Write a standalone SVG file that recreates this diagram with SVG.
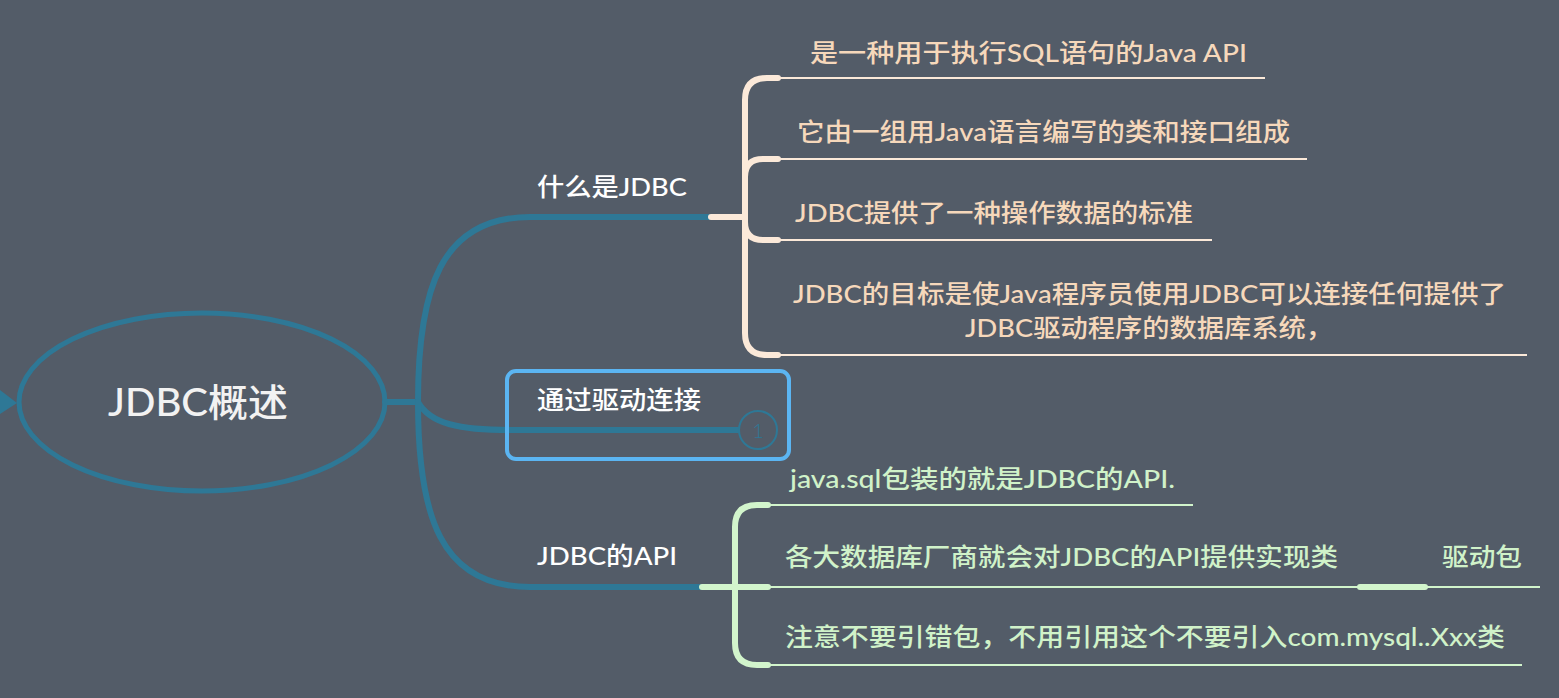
<svg xmlns="http://www.w3.org/2000/svg" width="1559" height="698" viewBox="0 0 1559 698">
<defs>
<style>
.bg{fill:#535c68}
.teal{fill:none;stroke:#2e7896;stroke-width:6;stroke-linecap:round}
.cream{fill:none;stroke:#fbe9d9;stroke-width:6;stroke-linecap:round}
.creamthin{fill:none;stroke:#fbe9d9;stroke-width:2}
.green{fill:none;stroke:#d2f5cc;stroke-width:6;stroke-linecap:round}
.greenthin{fill:none;stroke:#d2f5cc;stroke-width:2}
text{font-family:Lato,"Noto Sans CJK SC",sans-serif;font-weight:500}
.main{fill:#ffffff;font-size:25px}
.peach{fill:#f6d8bb;font-size:25px}
.mint{fill:#d0f2c9;font-size:25px}
</style>
</defs>
<rect class="bg" x="0" y="0" width="1559" height="698"/>

<g id="connectors">
<path class="teal" d="M385,402 L418,402"/>
<path class="teal" d="M418,402 C418,290 440,217 530,217 L711,217"/>
<path class="teal" d="M418,402 C430,424 460,430 510,430 L739,430"/>
<path class="teal" d="M418,402 C418,515 440,587 530,587 L702,587"/>
<path class="cream" d="M711,217 L745,217"/>
<path class="cream" d="M745,217 L745,100 Q745,78 767,78 L778,78"/>
<path class="cream" d="M745,217 L745,177 Q745,159 763,159 L778,159"/>
<path class="cream" d="M745,217 L745,222 Q745,240 763,240 L778,240"/>
<path class="cream" d="M745,217 L745,333 Q745,355 767,355 L778,355"/>
<path class="creamthin" d="M778,78 L1265,78"/>
<path class="creamthin" d="M778,159 L1307,159"/>
<path class="creamthin" d="M778,240 L1212,240"/>
<path class="creamthin" d="M778,355 L1527,355"/>
<path class="green" d="M702,587 L768,587"/>
<path class="green" d="M735,587 L735,527 Q735,505 757,505 L768,505"/>
<path class="green" d="M735,587 L735,643 Q735,665 757,665 L768,665"/>
<path class="greenthin" d="M768,505 L1193,505"/>
<path class="greenthin" d="M768,587 L1540,587"/>
<path class="greenthin" d="M768,665 L1522,665"/>
<path class="green" d="M1360,587 L1425,587"/>
</g>

<g id="arrow-in">
<polygon points="0,390 17,403 0,414" fill="#2e7896"/>
</g>

<g id="root">
<ellipse cx="202" cy="402" rx="183" ry="89" fill="none" stroke="#2e7896" stroke-width="5"/>
<text x="198" y="416" text-anchor="middle" font-size="38" fill="#f2f2f2" textLength="180" lengthAdjust="spacingAndGlyphs">JDBC概述</text>
</g>

<g id="node-what">
<text class="main" x="537" y="196" textLength="150" lengthAdjust="spacingAndGlyphs">什么是JDBC</text>
</g>

<g id="node-driver">
<rect x="507" y="371" width="282" height="88" rx="9" fill="none" stroke="#5bb5f2" stroke-width="4"/>
<text class="main" x="537" y="409" textLength="164" lengthAdjust="spacingAndGlyphs">通过驱动连接</text>
<circle cx="758" cy="430" r="19" fill="#535c68" stroke="#2e7896" stroke-width="2"/>
<text x="758" y="438" text-anchor="middle" font-size="20" fill="#2e7896" style="font-weight:300">1</text>
</g>

<g id="node-api">
<text class="main" x="537" y="565" textLength="140" lengthAdjust="spacingAndGlyphs">JDBC的API</text>
</g>

<g id="what-1"><text class="peach" x="810" y="62" textLength="437" lengthAdjust="spacingAndGlyphs">是一种用于执行SQL语句的Java API</text></g>
<g id="what-2"><text class="peach" x="797" y="141" textLength="493" lengthAdjust="spacingAndGlyphs">它由一组用Java语言编写的类和接口组成</text></g>
<g id="what-3"><text class="peach" x="795" y="222" textLength="398" lengthAdjust="spacingAndGlyphs">JDBC提供了一种操作数据的标准</text></g>
<g id="what-4">
<text class="peach" x="793" y="303" textLength="713" lengthAdjust="spacingAndGlyphs">JDBC的目标是使Java程序员使用JDBC可以连接任何提供了</text>
<text class="peach" x="965" y="337" textLength="368" lengthAdjust="spacingAndGlyphs">JDBC驱动程序的数据库系统，</text>
</g>

<g id="api-1"><text class="mint" x="790" y="488" textLength="385" lengthAdjust="spacingAndGlyphs">java.sql包装的就是JDBC的API.</text></g>
<g id="api-2"><text class="mint" x="785" y="566" textLength="553" lengthAdjust="spacingAndGlyphs">各大数据库厂商就会对JDBC的API提供实现类</text></g>
<g id="api-2-1"><text class="mint" x="1442" y="566" textLength="80" lengthAdjust="spacingAndGlyphs">驱动包</text></g>
<g id="api-3"><text class="mint" x="785" y="646" textLength="720" lengthAdjust="spacingAndGlyphs">注意不要引错包，不用引用这个不要引入com.mysql..Xxx类</text></g>
</svg>
